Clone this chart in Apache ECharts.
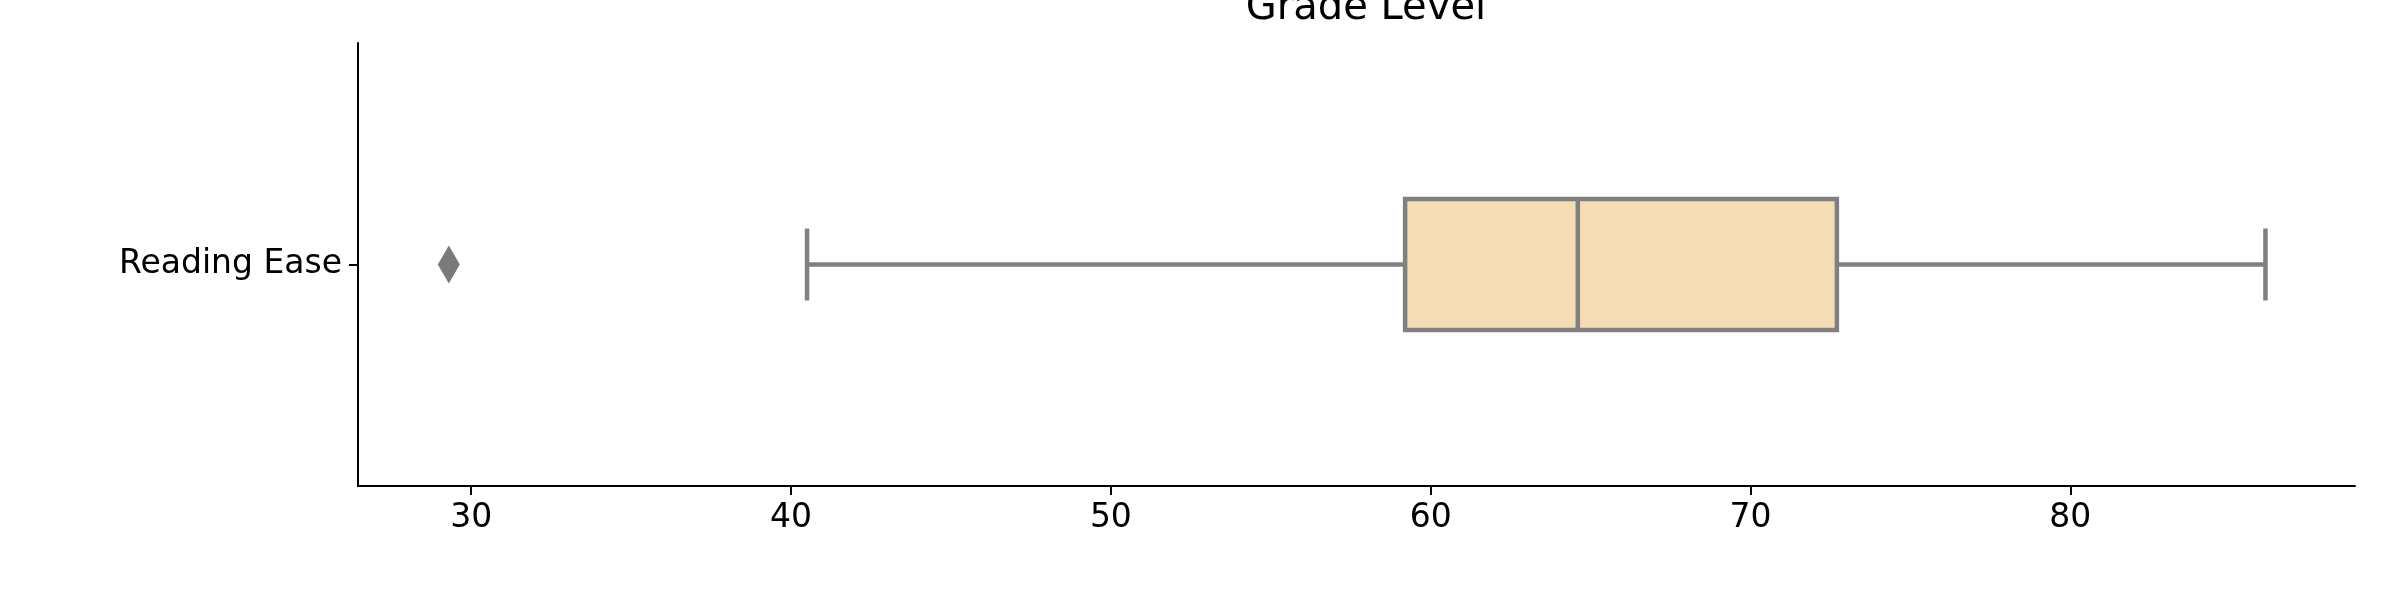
<!DOCTYPE html>
<html>
<head>
<meta charset="utf-8">
<script src="https://cdn.jsdelivr.net/npm/echarts@6/dist/echarts.min.js"></script>
<style>body{margin:0}#c{width:2400px;height:600px}</style>
</head>
<body>
<div id="c"></div>
<script>
var categories = ['Reading Ease'];
var boxValues = [[0, 40.5, 59.2, 64.6, 72.7, 86.1]];
var outliers = [[29.3, 'Reading Ease']];
var xTicks = [30, 40, 50, 60, 70, 80];

var stroke = {stroke: '#808080', lineWidth: 4.5};
function renderBox(params, api) {
  var y = api.value(0);
  var lo = api.coord([api.value(1), y]), q1 = api.coord([api.value(2), y]);
  var md = api.coord([api.value(3), y]), q3 = api.coord([api.value(4), y]);
  var hi = api.coord([api.value(5), y]);
  var cy = lo[1], h = 131, cap = 72;
  return {type: 'group', children: [
    {type: 'line', shape: {x1: lo[0], y1: cy, x2: q1[0], y2: cy}, style: stroke},
    {type: 'line', shape: {x1: q3[0], y1: cy, x2: hi[0], y2: cy}, style: stroke},
    {type: 'line', shape: {x1: lo[0], y1: cy - cap / 2, x2: lo[0], y2: cy + cap / 2}, style: stroke},
    {type: 'line', shape: {x1: hi[0], y1: cy - cap / 2, x2: hi[0], y2: cy + cap / 2}, style: stroke},
    {type: 'rect', shape: {x: q1[0], y: cy - h / 2, width: q3[0] - q1[0], height: h},
      style: {fill: '#f5dcb5', stroke: '#808080', lineWidth: 4.5}},
    {type: 'line', shape: {x1: md[0], y1: cy - h / 2, x2: md[0], y2: cy + h / 2}, style: stroke}
  ]};
}

var chart = echarts.init(document.getElementById('c'));
chart.setOption({
  animation: false,
  title: {
    text: 'Grade Level', left: 1361, top: -16, textAlign: 'center',
    textStyle: {fontFamily: 'DejaVu Sans', fontSize: 40, fontWeight: 'normal', color: '#000'}
  },
  grid: {left: 358, right: 45, top: 43, bottom: 114},
  xAxis: {
    type: 'value', min: 26.46, max: 88.9,
    axisLine: {show: true, onZero: false, lineStyle: {color: '#000', width: 2}},
    axisTick: {show: true, length: 9, lineStyle: {color: '#000', width: 2},
      customValues: xTicks},
    axisLabel: {fontFamily: 'DejaVu Sans', fontSize: 33, color: '#000', margin: 16,
      customValues: xTicks},
    splitLine: {show: false}
  },
  yAxis: {
    type: 'category', data: categories,
    axisLine: {show: true, lineStyle: {color: '#000', width: 2}},
    axisTick: {show: true, alignWithLabel: true, length: 9, lineStyle: {color: '#000', width: 2}},
    axisLabel: {fontFamily: 'DejaVu Sans', fontSize: 33, color: '#000', margin: 16}
  },
  series: [{
    type: 'custom', data: boxValues, renderItem: renderBox,
    encode: {x: [1, 2, 3, 4, 5], y: 0}
  }, {
    type: 'scatter', data: outliers, symbol: 'diamond', symbolSize: [22, 38],
    itemStyle: {color: '#7a7a7a', opacity: 1}
  }]
});
</script>
</body>
</html>
